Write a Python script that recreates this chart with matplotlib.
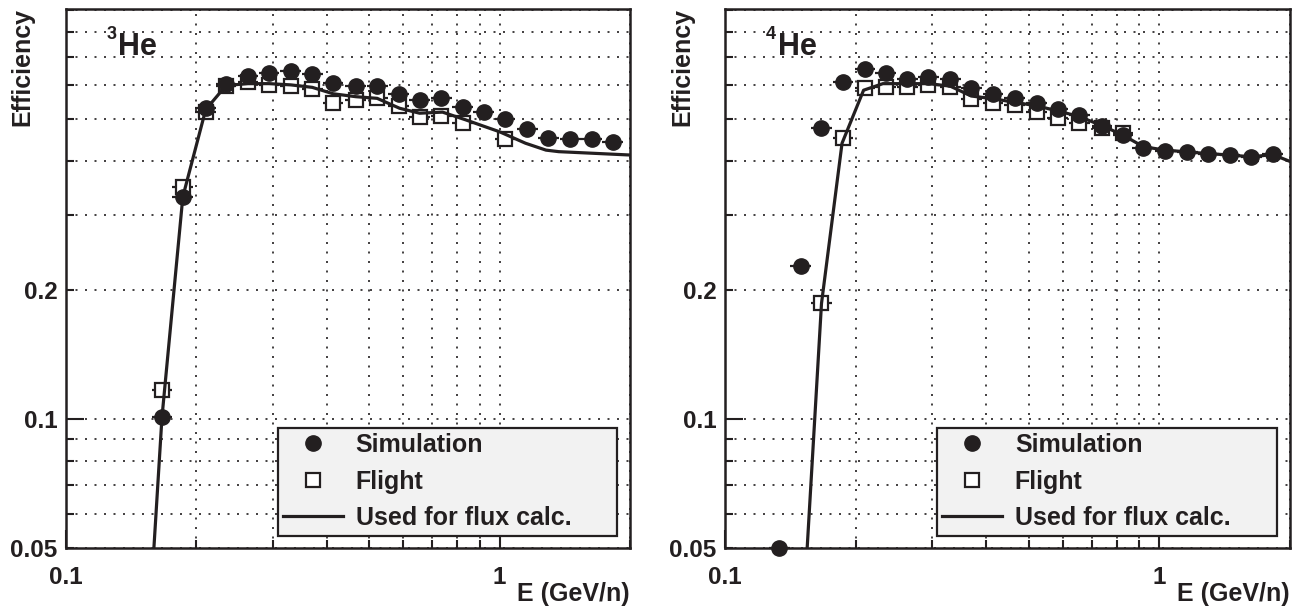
import numpy as np
import matplotlib
matplotlib.use("Agg")
import matplotlib.pyplot as plt
from matplotlib.lines import Line2D
from matplotlib.ticker import LogLocator, FuncFormatter

plt.rcParams['font.family'] = ['Liberation Sans', 'DejaVu Sans']
plt.rcParams['font.weight'] = 'bold'

INK = '#231f20'

# 3He panel
sim3_e = [0.1665, 0.186, 0.210, 0.234, 0.263, 0.294, 0.330, 0.370, 0.413, 0.466, 0.522,
          0.585, 0.654, 0.734, 0.823, 0.920, 1.030, 1.158, 1.297, 1.455, 1.632, 1.824]
sim3_eff = [0.101, 0.329, 0.531, 0.604, 0.632, 0.643, 0.650, 0.638, 0.607, 0.599, 0.599,
            0.573, 0.555, 0.561, 0.534, 0.519, 0.501, 0.475, 0.453, 0.449, 0.449, 0.444]
flt3_e = [0.1665, 0.186, 0.210, 0.234, 0.263, 0.294, 0.330, 0.370, 0.413, 0.466, 0.522,
          0.585, 0.654, 0.734, 0.823, 1.030]
flt3_eff = [0.1166, 0.347, 0.519, 0.599, 0.612, 0.602, 0.599, 0.588, 0.547, 0.555, 0.562,
            0.538, 0.506, 0.508, 0.490, 0.449]
used3_e = [0.1595, 0.1665, 0.186, 0.210, 0.234, 0.263, 0.294, 0.330, 0.370, 0.413, 0.466,
           0.522, 0.588, 0.654, 0.739, 0.835, 0.920, 1.000, 1.148, 1.280, 1.370, 2.000]
used3_eff = [0.050, 0.101, 0.330, 0.527, 0.600, 0.606, 0.606, 0.602, 0.594, 0.574, 0.565,
             0.560, 0.531, 0.517, 0.520, 0.499, 0.482, 0.468, 0.440, 0.424, 0.4205, 0.413]

# 4He panel
sim4_e = [0.1333, 0.1495, 0.1668, 0.187, 0.210, 0.2345, 0.263, 0.294, 0.330, 0.369, 0.414,
          0.465, 0.522, 0.583, 0.654, 0.738, 0.825, 0.915, 1.032, 1.160, 1.296, 1.455,
          1.630, 1.825]
sim4_eff = [0.050, 0.227, 0.477, 0.612, 0.655, 0.643, 0.622, 0.627, 0.621, 0.591, 0.573,
            0.562, 0.545, 0.529, 0.512, 0.482, 0.459, 0.430, 0.422, 0.4205, 0.416, 0.413,
            0.409, 0.416]
flt4_e = [0.1668, 0.187, 0.210, 0.2345, 0.263, 0.294, 0.330, 0.369, 0.414, 0.465, 0.522,
          0.583, 0.654, 0.738, 0.825]
flt4_eff = [0.186, 0.452, 0.591, 0.594, 0.594, 0.602, 0.594, 0.557, 0.545, 0.541, 0.521,
            0.503, 0.491, 0.477, 0.466]
used4_e = [0.1546, 0.1668, 0.186, 0.2085, 0.231, 0.263, 0.294, 0.330, 0.369, 0.414, 0.465,
           0.522, 0.585, 0.654, 0.736, 0.824, 0.918, 1.031, 1.159, 1.297, 1.455, 1.631,
           1.825, 2.000]
used4_eff = [0.050, 0.186, 0.440, 0.585, 0.606, 0.606, 0.606, 0.598, 0.567, 0.559, 0.548,
             0.538, 0.523, 0.508, 0.484, 0.460, 0.432, 0.424, 0.420, 0.416, 0.413, 0.409,
             0.414, 0.399]

legend_labels = ['Simulation', 'Flight', 'Used for flux calc.']


def half_bin(e):
    e = np.asarray(e)
    f = 10 ** 0.024
    return [e - e / f, e * f - e]


def ylab(v, pos):
    if abs(v - 0.05) < 1e-6 or abs(v - 0.2) < 1e-6:
        return f'{v:g}'
    return ''


def draw_panel(ax, sim_e, sim_eff, flt_e, flt_eff, used_e, used_eff, mass):
    ax.errorbar(flt_e, flt_eff, xerr=half_bin(flt_e), fmt='s', ms=10.5, mfc='white', mec=INK,
                mew=1.6, color=INK, ecolor=INK, elinewidth=1.6, capsize=0, clip_on=False, zorder=3)
    ax.errorbar(sim_e, sim_eff, xerr=half_bin(sim_e), fmt='o', ms=11, color=INK, ecolor=INK,
                elinewidth=1.6, capsize=0, clip_on=False, zorder=4)
    ax.plot(used_e, used_eff, color=INK, lw=2.3, zorder=5)

    ax.set_xscale('log')
    ax.set_yscale('log')
    ax.set_xlim(0.1, 2.0)
    ax.set_ylim(0.05, 0.905)

    ax.xaxis.set_major_locator(LogLocator(base=10, numticks=10))
    ax.xaxis.set_minor_locator(LogLocator(base=10, subs=np.arange(2, 10), numticks=10))
    ax.xaxis.set_major_formatter(FuncFormatter(lambda v, p: f'{v:g}'))
    ax.xaxis.set_minor_formatter(FuncFormatter(lambda v, p: ''))
    ax.yaxis.set_major_locator(LogLocator(base=10, numticks=10))
    ax.yaxis.set_minor_locator(LogLocator(base=10, subs=np.arange(2, 10), numticks=10))
    ax.yaxis.set_major_formatter(FuncFormatter(lambda v, p: f'{v:g}'))
    ax.yaxis.set_minor_formatter(FuncFormatter(ylab))

    ax.tick_params(which='both', direction='in', top=False, right=False, width=1.5,
                   color=INK, labelsize=17.5, labelcolor=INK)
    ax.tick_params(which='major', length=13)
    ax.tick_params(which='minor', length=6)
    ax.tick_params(axis='x', which='both', pad=13)
    ax.tick_params(axis='y', which='both', pad=6)
    for lab in ax.get_xticklabels(which='both') + ax.get_yticklabels(which='both'):
        lab.set_fontweight('bold')

    ax.grid(True, which='both', color=INK, lw=1.2, ls=(0, (1.2, 4.5)))
    for s in ax.spines.values():
        s.set_linewidth(1.8)
        s.set_color(INK)

    ax.text(0.072, 0.968, mass, transform=ax.transAxes, fontsize=13, fontweight='bold',
            color=INK, ha='left', va='top')
    ax.text(0.093, 0.915, 'He', transform=ax.transAxes, fontsize=22, fontweight='bold',
            color=INK, ha='left', va='baseline')

    handles = [Line2D([], [], ls='none', marker='o', ms=11, color=INK),
               Line2D([], [], ls='none', marker='s', ms=10.5, mfc='white', mec=INK, mew=1.6),
               Line2D([], [], color=INK, lw=2.3)]
    leg = ax.legend(handles, legend_labels, loc='lower left',
                    bbox_to_anchor=(0.375, 0.0228, 0.602, 0.2), mode='expand',
                    borderaxespad=0, prop={'size': 18, 'weight': 'bold'}, frameon=True,
                    fancybox=False, edgecolor=INK, facecolor='#f2f2f2', framealpha=1,
                    handlelength=2.4, handletextpad=0.5, labelspacing=0.5, borderpad=0.22)
    leg.get_frame().set_linewidth(1.6)
    leg.set_zorder(10)
    for t in leg.get_texts():
        t.set_color(INK)


fig = plt.figure(figsize=(13.01, 6.16), dpi=100)
ax1 = fig.add_axes([66 / 1301, 68 / 616, 564 / 1301, 539 / 616])
ax2 = fig.add_axes([725 / 1301, 68 / 616, 565 / 1301, 539 / 616])

draw_panel(ax1, sim3_e, sim3_eff, flt3_e, flt3_eff, used3_e, used3_eff, '3')
draw_panel(ax2, sim4_e, sim4_eff, flt4_e, flt4_eff, used4_e, used4_eff, '4')

for xc, xr in [(22, 630), (682, 1290)]:
    fig.text(xc / 1301, 1 - 8 / 616, 'Efficiency', rotation=90, ha='center', va='top',
             fontsize=18, fontweight='bold', color=INK)
    fig.text(xr / 1301, 1 - 594 / 616, 'E (GeV/n)', ha='right', va='center',
             fontsize=18, fontweight='bold', color=INK)

fig.savefig('out.png', dpi=100)
